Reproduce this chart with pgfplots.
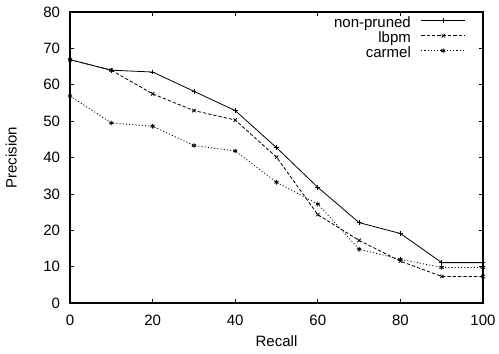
\documentclass[border=0pt]{standalone}
\usepackage{pgfplots}
\pgfplotsset{compat=1.18}
\usepackage{fontspec}
\setmainfont{Liberation Sans}
\begin{document}
\fontsize{11.25pt}{13pt}\selectfont
\begin{tikzpicture}[x=1pt,y=1pt]
\path[use as bounding box] (0,0) rectangle (374.25,264.75);
\begin{axis}[
  at={(52.5pt,37.5pt)}, anchor=south west,
  scale only axis,
  width=309.75pt, height=218.25pt,
  xmin=0, xmax=100, ymin=0, ymax=80,
  xtick={0,20,...,100}, ytick={0,10,...,80},
  tick align=inside, tick pos=both,
  major tick length=3pt,
  /pgf/number format/assume math mode=true,
  xticklabel style={yshift=-5pt},
  yticklabel style={xshift=-3.5pt},
  xlabel={Recall}, ylabel={Precision},
  xlabel style={at={(axis description cs:0.5,0)}, anchor=base, yshift=-32.8pt},
  ylabel style={at={(axis description cs:-0.1291,0.5)}, anchor=base},
  axis line style={line width=0.8pt},
  every tick/.style={black, line width=0.5pt},
  legend style={draw=none, fill=none, at={(0.958,0.984)},
    anchor=north east, inner sep=0pt, outer sep=0pt,
    font=\fontsize{11.25pt}{13pt}\selectfont, row sep=0pt, column sep=7.5pt,
    nodes={inner sep=0pt, text height=8pt, text depth=3.25pt}},
  legend cell align=right,
  legend plot pos=right,
  legend image code/.code={\draw[mark repeat=2,mark phase=2,#1] plot coordinates {(0pt,2.6pt) (16.5pt,2.6pt) (33pt,2.6pt)};},
  every axis plot/.append style={line width=0.6pt, black},
  mark options={solid, scale=0.9},
]
\addplot[solid, mark=+] coordinates {
(0,66.9) (10,64.0) (20,63.5) (30,58.2) (40,52.9) (50,42.7) (60,31.8) (70,22.1) (80,19.1) (90,11.1) (100,11.1)};
\addlegendentry{non-pruned}
\addplot[dash pattern=on 2.5pt off 1.5pt, mark=x] coordinates {
(0,66.9) (10,64.0) (20,57.5) (30,52.9) (40,50.3) (50,40.1) (60,24.3) (70,17.2) (80,11.5) (90,7.3) (100,7.3)};
\addlegendentry{lbpm}
\addplot[dash pattern=on 0.8pt off 1.6pt, mark=asterisk] coordinates {
(0,56.9) (10,49.5) (20,48.6) (30,43.3) (40,41.8) (50,33.2) (60,27.2) (70,14.8) (80,12.0) (90,9.8) (100,9.8)};
\addlegendentry{carmel}
\end{axis}
\end{tikzpicture}
\end{document}
